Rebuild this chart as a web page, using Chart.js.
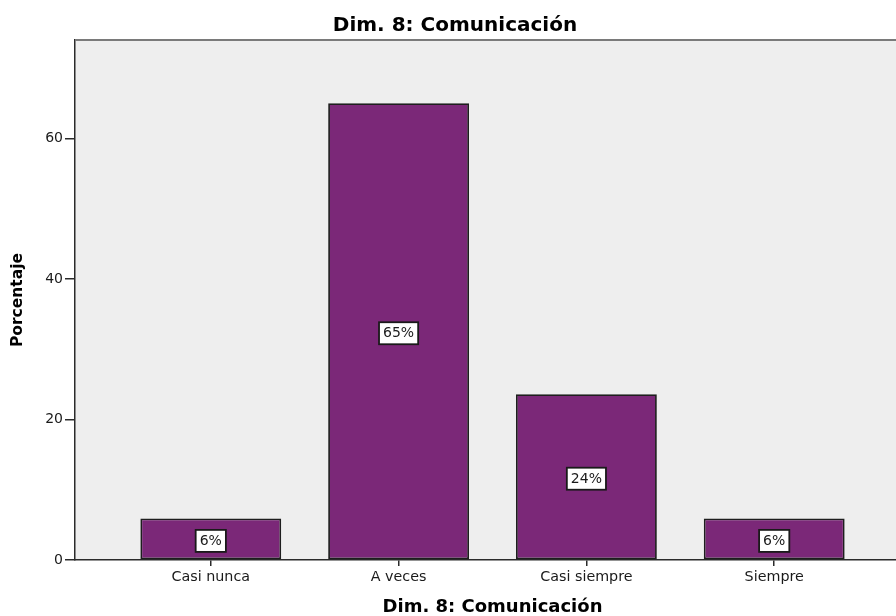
<!DOCTYPE html>
<html>
<head>
<meta charset="utf-8">
<script src="https://cdn.jsdelivr.net/npm/chart.js@4/dist/chart.umd.min.js"></script>
<style>
  html, body { margin: 0; padding: 0; background: #ffffff; overflow: hidden; }
  #wrap { width: 910px; height: 616px; position: relative; }
</style>
</head>
<body>
<div id="wrap"><canvas id="c"></canvas></div>
<script>
// ---- data ----
const chartTitle = 'Dim. 8: Comunicación';
const xAxisTitle = 'Dim. 8: Comunicación';
const yAxisTitle = 'Porcentaje';
const categories = ['Casi nunca', 'A veces', 'Casi siempre', 'Siempre'];
const percentages = [5.9, 65.0, 23.6, 5.9];
const yTicks = [0, 20, 40, 60];
const yMax = 74;

const FONT = '"DejaVu Sans", "Liberation Sans", Arial, sans-serif';

const plotBg = {
  id: 'plotBg',
  beforeDraw(chart) {
    const { ctx, chartArea: a } = chart;
    ctx.save();
    ctx.fillStyle = '#eeeeee';
    ctx.fillRect(a.left, a.top, a.right - a.left, a.bottom - a.top);
    ctx.restore();
  },
  afterDraw(chart) {
    const { ctx, chartArea: a } = chart;
    ctx.save();
    ctx.strokeStyle = '#7a7a7a';
    ctx.lineWidth = 2;
    ctx.beginPath();
    ctx.moveTo(a.left, a.top);
    ctx.lineTo(a.right, a.top);
    ctx.stroke();
    ctx.restore();
  }
};

const barLabels = {
  id: 'barLabels',
  afterDatasetsDraw(chart) {
    const { ctx } = chart;
    const meta = chart.getDatasetMeta(0);
    ctx.save();
    ctx.font = '14px ' + FONT;
    ctx.textAlign = 'center';
    ctx.textBaseline = 'middle';
    meta.data.forEach((bar, i) => {
      const p = bar.getProps(['x', 'y', 'base'], true);
      const cy = (p.y + p.base) / 2 + 2;
      const txt = Math.round(percentages[i]) + '%';
      const w = ctx.measureText(txt).width + 8;
      const h = 22;
      ctx.fillStyle = '#ffffff';
      ctx.fillRect(p.x - w / 2, cy - h / 2, w, h);
      ctx.strokeStyle = '#1a1a1a';
      ctx.lineWidth = 1.8;
      ctx.strokeRect(p.x - w / 2, cy - h / 2, w, h);
      ctx.fillStyle = '#1a1a1a';
      ctx.fillText(txt, p.x, cy + 0.5);
    });
    ctx.restore();
  }
};

new Chart(document.getElementById('c'), {
  type: 'bar',
  data: {
    datasets: [{
      data: categories.map((c, i) => ({ x: i + 1, y: percentages[i] })),
      backgroundColor: '#7b2878',
      borderColor: '#1e1e1e',
      borderWidth: 1.8,
      borderSkipped: false,
      barPercentage: 0.75,
      categoryPercentage: 1.0
    }]
  },
  options: {
    responsive: true,
    maintainAspectRatio: false,
    animation: false,
    layout: { padding: 0 },
    plugins: {
      legend: { display: false },
      tooltip: { enabled: false },
      title: {
        display: true,
        text: chartTitle,
        color: '#000000',
        font: { family: FONT, size: 20, weight: 'bold' },
        padding: { top: 13.3, bottom: 2.7 }
      }
    },
    scales: {
      x: {
        type: 'linear',
        min: 0.277,
        max: 4.723,
        offset: false,
        afterBuildTicks(scale) {
          scale.ticks = categories.map((c, i) => ({ value: i + 1 }));
        },
        afterFit(scale) { scale.height = 56; },
        ticks: {
          autoSkip: false,
          maxRotation: 0,
          padding: 3,
          color: '#1a1a1a',
          font: { family: FONT, size: 14.3 },
          callback: (v) => categories[Math.round(v) - 1] || ''
        },
        grid: {
          offset: false,
          drawOnChartArea: false,
          drawTicks: true,
          tickLength: 6,
          color: '#2b2b2b',
          lineWidth: 1.5
        },
        border: { display: true, color: '#2b2b2b', width: 1.5 },
        title: {
          display: true,
          text: xAxisTitle,
          color: '#000000',
          font: { family: FONT, size: 18, weight: 'bold', lineHeight: 1 },
          padding: { top: 0, bottom: 0 }
        }
      },
      y: {
        min: 0,
        max: yMax,
        afterBuildTicks(scale) {
          scale.ticks = yTicks.map(v => ({ value: v }));
        },
        afterFit(scale) { scale.width = 75; },
        ticks: {
          padding: 2,
          color: '#1a1a1a',
          font: { family: FONT, size: 14 }
        },
        grid: {
          drawOnChartArea: false,
          drawTicks: true,
          tickLength: 10,
          color: '#2b2b2b',
          lineWidth: 1.5
        },
        border: { display: true, color: '#2b2b2b', width: 1.5 },
        title: {
          display: true,
          text: yAxisTitle,
          color: '#000000',
          font: { family: FONT, size: 15.5, weight: 'bold' },
          padding: { top: 9, bottom: 0 }
        }
      }
    }
  },
  plugins: [plotBg, barLabels]
});
</script>
</body>
</html>
